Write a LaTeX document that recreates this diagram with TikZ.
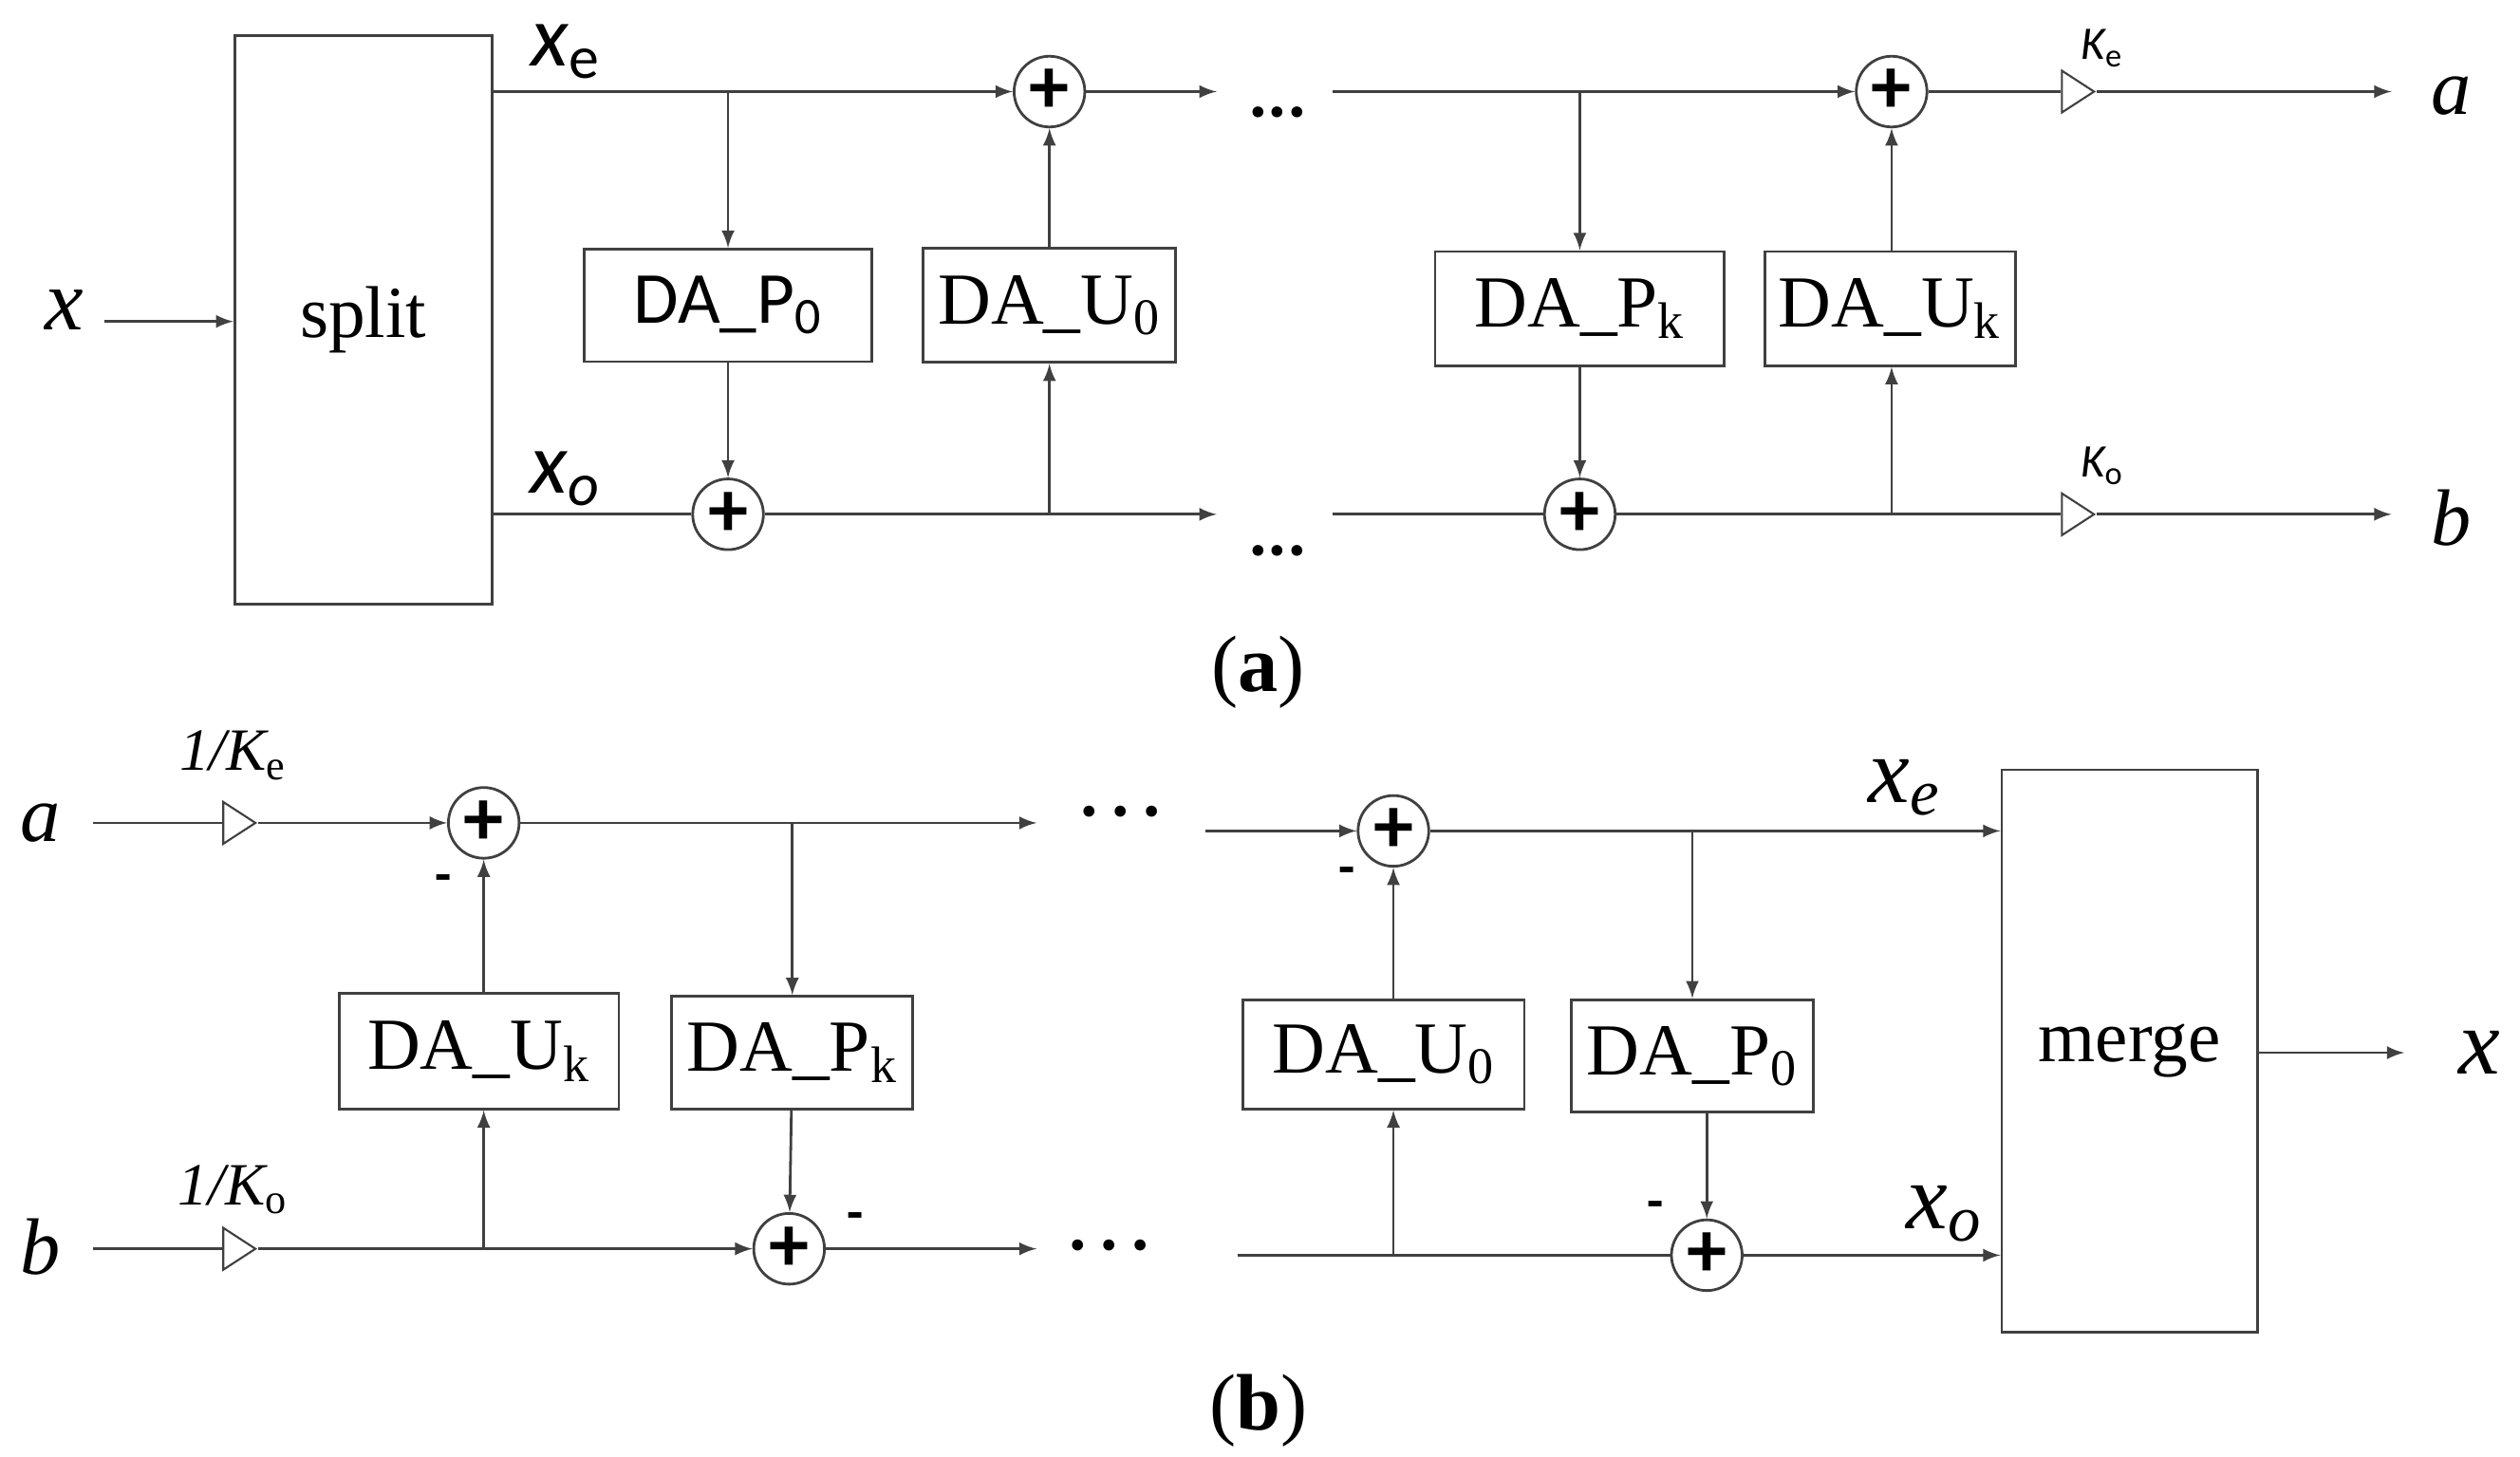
\documentclass[tikz,border=0pt]{standalone}
\usepackage{fontspec}
\usepackage{tikz}
\usetikzlibrary{arrows, positioning, shapes.geometric}
\setmainfont{Liberation Serif}
\newfontfamily\sansf{Carlito}
\newcommand{\px}{0.01693cm}

\begin{document}
\begin{tikzpicture}
[x=\px, y=-\px, >=latex, line width=0.8pt, draw=black!75,
 box/.style={rectangle, draw=black!75, line width=0.8pt, fill=white, inner sep=0pt, font=\fontsize{22}{26}\selectfont},
 sum/.style={circle, draw=black!75, line width=0.8pt, inner sep=0pt, minimum size=44*\px, font=\sansf\fontsize{24}{24}\selectfont\bfseries},
 amp/.style={isosceles triangle, draw=black!75, line width=0.6pt, inner sep=0pt, minimum width=26*\px, minimum height=20*\px, isosceles triangle stretches},
 lbl/.style={inner sep=0pt, font=\fontsize{24}{28}\selectfont},
 neg/.style={inner sep=0pt, font=\sansf\fontsize{16}{16}\selectfont\bfseries}]
\useasboundingbox (0,0) rectangle (1568,906);

% (a)
\node[box, minimum width=160*\px, minimum height=354*\px] (sp) at (226,199) {split};
\node[lbl, font=\fontsize{26}{26}\selectfont\itshape] (x1) at (40,193) {x};
\node[box, minimum width=179*\px, minimum height=70*\px] (pa0) at (453,190) {\sansf DA\_P\textsubscript{0}};
\node[box, minimum width=157*\px, minimum height=71*\px] (ua0) at (653,190) {DA\_U\textsubscript{0}};
\node[box, minimum width=180*\px, minimum height=71*\px] (pak) at (983,192) {DA\_P\textsubscript{k}};
\node[box, minimum width=156*\px, minimum height=71*\px] (uak) at (1176,192) {DA\_U\textsubscript{k}};
\node[sum] (s1) at (653,57) {+};
\node[sum] (s2) at (453,320) {+};
\node[sum] (s3) at (1177,57) {+};
\node[sum] (s4) at (983,320) {+};
\node[amp] (ke) at (1290,57) {};
\node[amp] (ko) at (1290,320) {};
\node[lbl, font=\sansf\fontsize{14}{14}\selectfont\itshape] at (1308,30) {K\textsubscript{\upshape e}};
\node[lbl, font=\sansf\fontsize{14}{14}\selectfont\itshape] at (1308,290) {K\textsubscript{\upshape o}};
\node[lbl, font=\sansf\fontsize{26}{26}\selectfont\itshape] at (352,32) {x\textsubscript{\upshape e}};
\node[lbl, font=\sansf\fontsize{26}{26}\selectfont\itshape] at (352,298) {x\textsubscript{o}};
\node[lbl, font=\fontsize{24}{24}\selectfont\itshape] (oa) at (1525,60) {a};
\node[lbl, font=\fontsize{24}{24}\selectfont\itshape] (ob) at (1525,322) {b};
\node[lbl, font=\sansf\fontsize{22}{22}\selectfont\bfseries] at (795,70) {...};
\node[lbl, font=\sansf\fontsize{22}{22}\selectfont\bfseries] at (795,343) {...};
\node[lbl, font=\fontsize{24}{24}\selectfont] at (783,418) {(\textbf{a})};

\coordinate (ae) at (306,57);
\coordinate (ao) at (306,320);
\coordinate (e1) at (757,57);
\coordinate (o1) at (757,320);
\coordinate (e2) at (829,57);
\coordinate (o2) at (829,320);
\coordinate (ea) at (1488,57);
\coordinate (ob2) at (1488,320);

\draw[->] (65,200) coordinate (xin) -- (sp.west |- xin);
\draw[->] (ae) -- (s1);
\draw[->] (ae -| pa0) -- (pa0);
\draw[->] (pa0) -- (s2);
\draw (ao) -- (s2);
\draw[->] (s2) -- (o1);
\draw[->] (o1 -| ua0) -- (ua0);
\draw[->] (ua0) -- (s1);
\draw[->] (s1) -- (e1);
\draw[->] (e2) -- (s3);
\draw[->] (e2 -| pak) -- (pak);
\draw[->] (pak) -- (s4);
\draw (o2) -- (s4);
\draw (s4) -- (ko);
\draw[->] (o2 -| s3) -- (s3 |- uak.south);
\draw[->] (s3 |- uak.north) -- (s3);
\draw (s3) -- (ke);
\draw[->] (ke) -- (ea);
\draw[->] (ko) -- (ob2);

% (b)
\node[box, minimum width=159*\px, minimum height=350*\px] (mg) at (1325,654) {merge};
\node[box, minimum width=174*\px, minimum height=72*\px] (ubk) at (298,654) {DA\_U\textsubscript{k}};
\node[box, minimum width=150*\px, minimum height=70*\px] (pbk) at (493,655) {DA\_P\textsubscript{k}};
\node[box, minimum width=175*\px, minimum height=68*\px] (ub0) at (861,656) {DA\_U\textsubscript{0}};
\node[box, minimum width=151*\px, minimum height=70*\px] (pb0) at (1053,657) {DA\_P\textsubscript{0}};
\node[sum] (t1) at (301,512) {+};
\node[sum] (t2) at (491,777) {+};
\node[sum] (t3) at (867,517) {+};
\node[sum] (t4) at (1062,781) {+};
\node[amp] (ie) at (146,512) {};
\node[amp] (io) at (146,777) {};
\node[lbl, font=\fontsize{18}{18}\selectfont\itshape] at (145,470) {1/K\textsubscript{\upshape e}};
\node[lbl, font=\fontsize{18}{18}\selectfont\itshape] at (145,740) {1/K\textsubscript{\upshape o}};
\node[lbl, font=\fontsize{24}{24}\selectfont\itshape] (ia) at (25,512) {a};
\node[lbl, font=\fontsize{24}{24}\selectfont\itshape] (ib) at (25,776) {b};
\node[lbl, font=\fontsize{28}{28}\selectfont\itshape] (ox) at (1543,655) {x};
\node[lbl, font=\fontsize{28}{28}\selectfont\itshape] at (1185,490) {x\textsubscript{e}};
\node[lbl, font=\fontsize{28}{28}\selectfont\itshape] at (1210,755) {x\textsubscript{o}};
\node[neg] at (276,550) {-};
\node[neg] at (532,760) {-};
\node[neg] at (838,545) {-};
\node[neg] at (1030,753) {-};
\node[lbl, font=\fontsize{28}{28}\selectfont] at (697,505) {\dots};
\node[lbl, font=\fontsize{28}{28}\selectfont] at (690,775) {\dots};
\node[lbl, font=\fontsize{24}{24}\selectfont] at (783,878) {(\textbf{b})};

\coordinate (ba) at (58,512);
\coordinate (bb) at (58,777);
\coordinate (f1) at (645,512);
\coordinate (g1) at (645,777);
\coordinate (f2) at (750,517);
\coordinate (g2) at (770,781);
\coordinate (xo) at (1496,655);

\draw (ba) -- (ie);
\draw (bb) -- (io);
\draw[->] (ie) -- (t1);
\draw[->] (t1) -- (f1);
\draw[->] (f1 -| pbk) -- (pbk);
\draw[->] (pbk) -- (t2);
\draw[->] (t1 |- ubk.north) -- (t1);
\draw[->] (io) -- (t2);
\draw[->] (io -| t1) -- (t1 |- ubk.south);
\draw[->] (t2) -- (g1);
\draw[->] (f2) -- (t3);
\draw[->] (t3) -- (mg.west |- t3);
\draw[->] (t3 -| pb0) -- (pb0);
\draw[->] (pb0.south -| t4) -- (t4);
\draw[->] (t3 |- ub0.north) -- (t3);
\draw (g2) -- (t4);
\draw[->] (g2 -| t3) -- (t3 |- ub0.south);
\draw[->] (t4) -- (mg.west |- t4);
\draw[->] (mg.east |- xo) -- (xo);

\end{tikzpicture}
\end{document}
